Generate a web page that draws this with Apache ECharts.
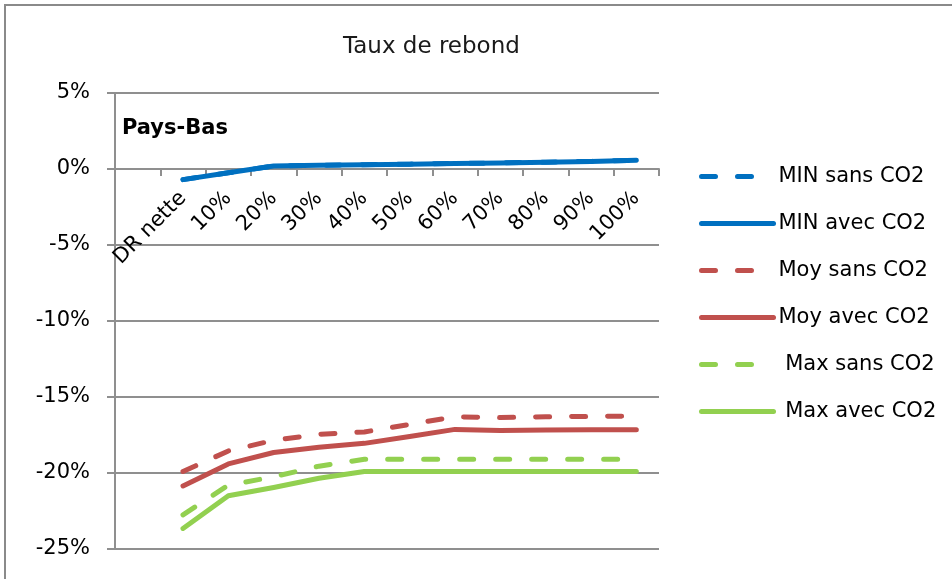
<!DOCTYPE html>
<html>
<head>
<meta charset="utf-8">
<title>Taux de rebond</title>
<script src="https://cdn.jsdelivr.net/npm/echarts@6/dist/echarts.min.js"></script>
<style>
  html, body { margin: 0; padding: 0; background: #fff; }
  #chart { width: 952px; height: 579px; }
</style>
</head>
<body>
<div id="chart"></div>
<script>
// Categories (a leading empty slot keeps the first point away from the value axis)
const categories = ['', 'DR nette', '10%', '20%', '30%', '40%', '50%', '60%', '70%', '80%', '90%', '100%'];

// Rebound rate, in %
const minSans = [null, -0.7, -0.25, 0.2, 0.24, 0.28, 0.32, 0.36, 0.4, 0.45, 0.5, 0.58];
const minAvec = [null, -0.7, -0.25, 0.2, 0.24, 0.28, 0.32, 0.36, 0.4, 0.45, 0.5, 0.58];
const moySans = [null, -19.9, -18.55, -17.85, -17.45, -17.3, -16.8, -16.3, -16.35, -16.3, -16.28, -16.25];
const moyAvec = [null, -20.85, -19.4, -18.65, -18.3, -18.05, -17.6, -17.13, -17.2, -17.17, -17.15, -17.15];
const maxSans = [null, -22.75, -20.8, -20.25, -19.55, -19.1, -19.1, -19.1, -19.1, -19.1, -19.1, -19.1];
const maxAvec = [null, -23.65, -21.5, -20.95, -20.35, -19.9, -19.9, -19.9, -19.9, -19.9, -19.9, -19.9];

// Value axis range (in %)
const yMin = -25;
const yMax = 5;
const yStep = 5;

const seriesNames = ['MIN sans CO2', 'MIN avec CO2', 'Moy sans CO2', 'Moy avec CO2', ' Max sans CO2', ' Max avec CO2'];
const seriesData = [minSans, minAvec, moySans, moyAvec, maxSans, maxAvec];
const seriesColors = ['#0070C0', '#0070C0', '#C0504D', '#C0504D', '#92D050', '#92D050'];
const seriesDashed = [true, false, true, false, true, false];

const FONT = 'DejaVu Sans';
const GRID_COLOR = '#8f8f8f';

// Plot area
const GRID_TOP = 93;
const GRID_HEIGHT = 456;
// The category axis sits on the 0% line: shift it up from the bottom edge
const zeroOffset = -GRID_HEIGHT * (0 - yMin) / (yMax - yMin);

const chart = echarts.init(document.getElementById('chart'), null, { renderer: 'canvas' });

const series = seriesNames.map((name, i) => ({
  name: name,
  type: 'line',
  data: seriesData[i],
  symbol: 'none',
  showSymbol: false,
  connectNulls: false,
  silent: true,
  lineStyle: {
    color: seriesColors[i],
    width: 5,
    type: seriesDashed[i] ? [14, 22] : 'solid',
    cap: 'round',
    join: 'round'
  },
  itemStyle: { color: seriesColors[i] },
  z: 2 + i
}));

chart.setOption({
  animation: false,
  backgroundColor: '#ffffff',
  title: [
    {
      text: 'Taux de rebond',
      left: 338,
      top: 31,
      textStyle: { fontFamily: FONT, fontSize: 23, fontWeight: 'normal', color: '#1a1a1a' }
    },
    {
      text: 'Pays-Bas',
      left: 117,
      top: 113,
      textStyle: { fontFamily: FONT, fontSize: 21, fontWeight: 'bold', color: '#000' }
    }
  ],
  graphic: [
    {
      type: 'rect',
      shape: { x: 5, y: 5, width: 1000, height: 1000 },
      style: { fill: 'none', stroke: '#8a8a8a', lineWidth: 2 },
      silent: true,
      z: -1
    }
  ],
  legend: {
    orient: 'vertical',
    left: 694,
    top: 161,
    itemWidth: 72,
    itemHeight: 20,
    itemGap: 26,
    selectedMode: false,
    data: seriesNames,
    itemStyle: { opacity: 0 },
    lineStyle: { width: 5 },
    textStyle: { fontFamily: FONT, fontSize: 21, color: '#000', padding: [0, 0, 0, 0] }
  },
  grid: {
    left: 115,
    top: GRID_TOP,
    width: 544,
    height: GRID_HEIGHT,
    containLabel: false,
    outerBoundsMode: 'none'
  },
  xAxis: {
    type: 'category',
    data: categories,
    boundaryGap: true,
    position: 'bottom',
    offset: zeroOffset,
    axisLine: { show: true, onZero: false, lineStyle: { color: GRID_COLOR, width: 2 } },
    axisTick: { show: true, length: 7, inside: false, lineStyle: { color: GRID_COLOR, width: 2 } },
    axisLabel: {
      interval: 0,
      rotate: 45,
      margin: 26,
      fontFamily: FONT,
      fontSize: 21,
      color: '#000'
    },
    splitLine: { show: false }
  },
  yAxis: {
    type: 'value',
    min: yMin,
    max: yMax,
    interval: yStep,
    axisLine: { show: true, lineStyle: { color: GRID_COLOR, width: 2 } },
    axisTick: { show: true, length: 8, lineStyle: { color: GRID_COLOR, width: 2 } },
    axisLabel: {
      formatter: '{value}%',
      margin: 25,
      fontFamily: FONT,
      fontSize: 21,
      color: '#000'
    },
    splitLine: { show: true, lineStyle: { color: GRID_COLOR, width: 2 } }
  },
  series: series
});
</script>
</body>
</html>
